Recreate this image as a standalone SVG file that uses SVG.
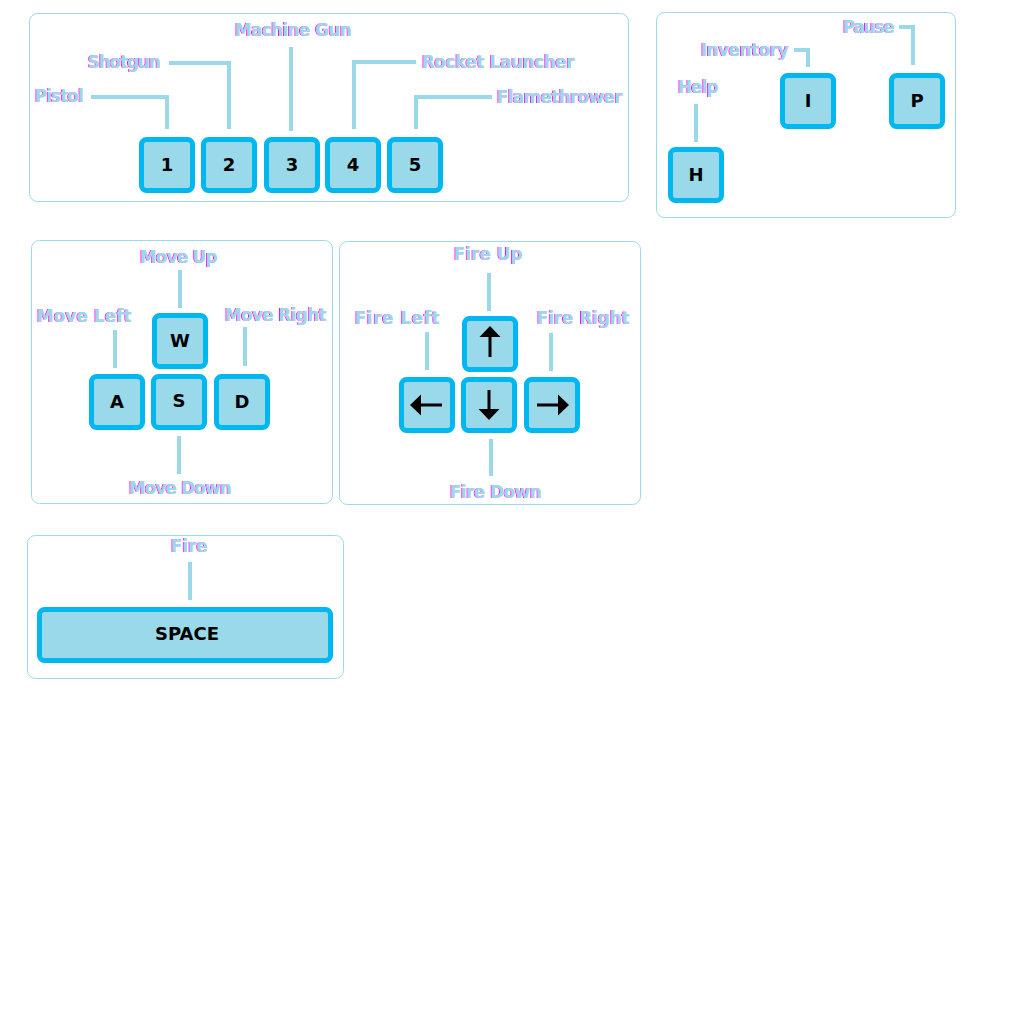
<svg xmlns="http://www.w3.org/2000/svg" width="1024" height="1024" viewBox="0 0 1024 1024">
<style>
.panel{fill:#fff;stroke:#99d9ea;stroke-width:1}
.key{fill:#99d9ea;stroke:#00b7ef;stroke-width:5}
.kt{font-family:"DejaVu Sans",sans-serif;font-weight:bold;font-size:18px;fill:#000;text-anchor:middle}
.lbl{font-family:"DejaVu Sans",sans-serif;font-weight:bold;font-size:17px;fill:#99d9ea;filter:url(#mg)}
.c{fill:none;stroke:#99d9ea;stroke-width:4}
.arr{stroke:#000;stroke-width:3;fill:none}
.ah{fill:#000}
</style>
<defs>
<filter id="mg" x="-5%" y="-20%" width="110%" height="140%">
<feDropShadow dx="-1" dy="0" stdDeviation="0" flood-color="#ff00ff" flood-opacity="1"/>
</filter>
</defs>
<rect width="1024" height="1024" fill="#fff"/>
<g id="panels">
<rect class="panel" x="29.5" y="13.5" width="599" height="188" rx="8"/>
<rect class="panel" x="656.5" y="12.5" width="299" height="205" rx="8"/>
<rect class="panel" x="31.5" y="240.5" width="301" height="263" rx="8"/>
<rect class="panel" x="339.5" y="241.5" width="301" height="263" rx="8"/>
<rect class="panel" x="27.5" y="535.5" width="316" height="143" rx="8"/>
</g>
<g id="connectors">
<polyline class="c" points="91,97 167,97 167,129"/>
<polyline class="c" points="169,63 229,63 229,129"/>
<polyline class="c" points="291,47 291,131"/>
<polyline class="c" points="416,62 354,62 354,129"/>
<polyline class="c" points="492,97 416,97 416,129"/>
<polyline class="c" points="696,104 696,142"/>
<polyline class="c" points="794,50 808,50 808,67"/>
<polyline class="c" points="899,27 913,27 913,65"/>
<polyline class="c" points="180,270 180,308"/>
<polyline class="c" points="115,330 115,368"/>
<polyline class="c" points="245,327 245,366"/>
<polyline class="c" points="179,436 179,474"/>
<polyline class="c" points="489,273 489,311"/>
<polyline class="c" points="427,332 427,370"/>
<polyline class="c" points="551,333 551,371"/>
<polyline class="c" points="491,439 491,476"/>
<polyline class="c" points="190,562 190,600"/>
</g>
<g id="labels">
<text class="lbl" x="35" y="102" textLength="49">Pistol</text>
<text class="lbl" x="88" y="68" textLength="73">Shotgun</text>
<text class="lbl" x="235" y="36" textLength="117">Machine Gun</text>
<text class="lbl" x="422" y="68" textLength="153">Rocket Launcher</text>
<text class="lbl" x="497" y="103" textLength="126">Flamethrower</text>
<text class="lbl" x="678" y="93" textLength="41">Help</text>
<text class="lbl" x="701" y="56" textLength="88">Inventory</text>
<text class="lbl" x="843" y="33" textLength="52">Pause</text>
<text class="lbl" x="140" y="263" textLength="78">Move Up</text>
<text class="lbl" x="37" y="322" textLength="95">Move Left</text>
<text class="lbl" x="225" y="321" textLength="102">Move Right</text>
<text class="lbl" x="129" y="494" textLength="103">Move Down</text>
<text class="lbl" x="454" y="260" textLength="69">Fire Up</text>
<text class="lbl" x="355" y="324" textLength="85">Fire Left</text>
<text class="lbl" x="537" y="324" textLength="93">Fire Right</text>
<text class="lbl" x="450" y="498" textLength="92">Fire Down</text>
<text class="lbl" x="171" y="552" textLength="37">Fire</text>
</g>
<g id="key-1"><rect class="key" x="141.5" y="139.5" width="51" height="51" rx="5"/><text class="kt" x="167" y="171">1</text></g>
<g id="key-2"><rect class="key" x="203.5" y="139.5" width="51" height="51" rx="5"/><text class="kt" x="229" y="171">2</text></g>
<g id="key-3"><rect class="key" x="266.5" y="139.5" width="51" height="51" rx="5"/><text class="kt" x="292" y="171">3</text></g>
<g id="key-4"><rect class="key" x="327.5" y="139.5" width="51" height="51" rx="5"/><text class="kt" x="353" y="171">4</text></g>
<g id="key-5"><rect class="key" x="389.5" y="139.5" width="51" height="51" rx="5"/><text class="kt" x="415" y="171">5</text></g>
<g id="key-I"><rect class="key" x="782.5" y="75.5" width="51" height="51" rx="5"/><text class="kt" x="808" y="107">I</text></g>
<g id="key-P"><rect class="key" x="891.5" y="75.5" width="51" height="51" rx="5"/><text class="kt" x="917" y="107">P</text></g>
<g id="key-H"><rect class="key" x="670.5" y="149.5" width="51" height="51" rx="5"/><text class="kt" x="696" y="181">H</text></g>
<g id="key-W"><rect class="key" x="154.5" y="315.5" width="51" height="51" rx="5"/><text class="kt" x="180" y="347">W</text></g>
<g id="key-A"><rect class="key" x="91.5" y="376.5" width="51" height="51" rx="5"/><text class="kt" x="117" y="408">A</text></g>
<g id="key-S"><rect class="key" x="153.5" y="376.5" width="51" height="51" rx="5"/><text class="kt" x="179" y="407">S</text></g>
<g id="key-D"><rect class="key" x="216.5" y="376.5" width="51" height="51" rx="5"/><text class="kt" x="242" y="408">D</text></g>
<g id="key-up"><rect class="key" x="464.5" y="318.5" width="51" height="51" rx="5"/><line class="arr" x1="490" y1="336" x2="490" y2="357"/><polygon class="ah" points="490,326 479.5,337 500.5,337"/></g>
<g id="key-left"><rect class="key" x="401.5" y="379.5" width="51" height="51" rx="5"/><line class="arr" x1="420" y1="405" x2="442" y2="405"/><polygon class="ah" points="410,405 421,394.5 421,415.5"/></g>
<g id="key-down"><rect class="key" x="463.5" y="379.5" width="51" height="51" rx="5"/><line class="arr" x1="489" y1="390" x2="489" y2="410"/><polygon class="ah" points="489,420 478.5,409 499.5,409"/></g>
<g id="key-right"><rect class="key" x="526.5" y="379.5" width="51" height="51" rx="5"/><line class="arr" x1="537" y1="405" x2="559" y2="405"/><polygon class="ah" points="569,405 558,394.5 558,415.5"/></g>
<g id="key-space"><rect class="key" x="39.5" y="609.5" width="291" height="51" rx="5"/><text class="kt" x="187" y="640">SPACE</text></g>
</svg>
